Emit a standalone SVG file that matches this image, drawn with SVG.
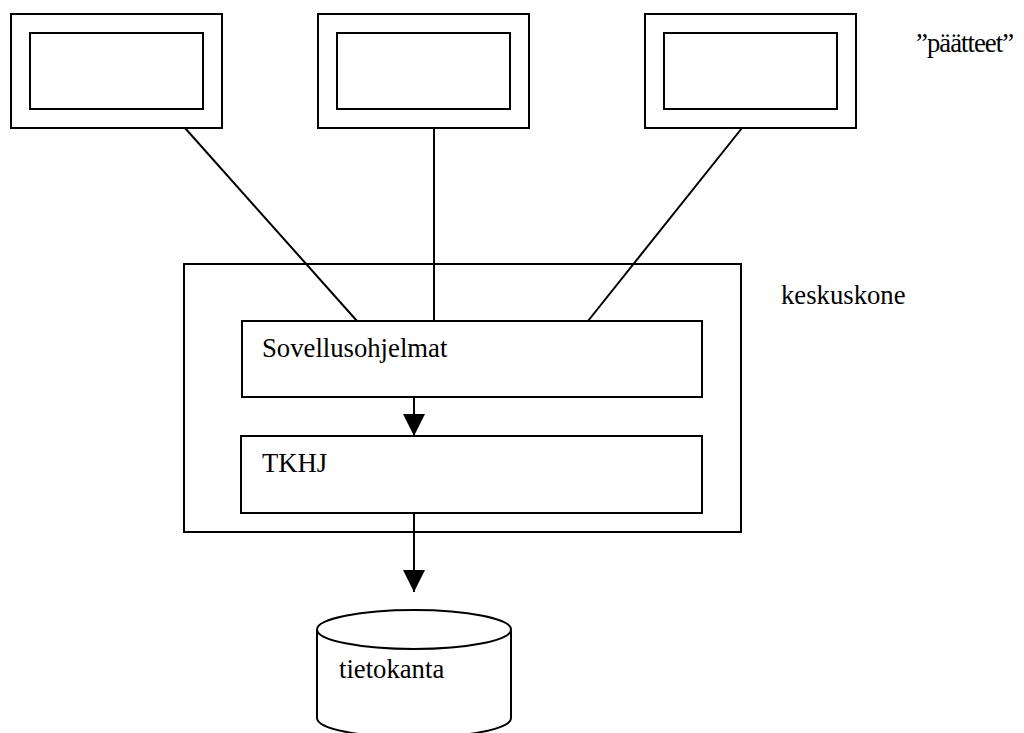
<svg xmlns="http://www.w3.org/2000/svg" width="1024" height="733" viewBox="0 0 1024 733">
  <style>
    .box { fill: #fff; stroke: #000; stroke-width: 2; }
    .ln { fill: none; stroke: #000; stroke-width: 2; }
    .lbl { font-size: 26.7px; fill: #000; }
  </style>
  <defs>
    <marker id="arrow" markerUnits="userSpaceOnUse" markerWidth="22" markerHeight="22" viewBox="0 0 20 20" refX="20" refY="10" orient="auto">
      <path d="M0,0 L20,10 L0,20 Z" fill="#000"/>
    </marker>
  </defs>

  <rect width="1024" height="733" fill="#fff"/>

  <!-- terminals -->
  <g id="terminal-left">
    <rect class="box" x="11" y="14" width="211" height="114"/>
    <rect class="box" x="30" y="33" width="173" height="76"/>
  </g>
  <g id="terminal-middle">
    <rect class="box" x="318" y="14" width="211" height="114"/>
    <rect class="box" x="337" y="33" width="173" height="76"/>
  </g>
  <g id="terminal-right">
    <rect class="box" x="645" y="14" width="211" height="114"/>
    <rect class="box" x="664" y="33" width="173" height="76"/>
  </g>

  <g font-family="'Liberation Serif', 'Times New Roman', 'DejaVu Serif', serif">
    <g id="label-terminals">
      <text class="lbl" x="916" y="52" textLength="98" lengthAdjust="spacing">”päätteet”</text>
    </g>

    <!-- mainframe -->
    <g id="mainframe">
      <rect class="box" x="184" y="264" width="557" height="268"/>
      <text class="lbl" x="781" y="304">keskuskone</text>
    </g>
    <g id="applications">
      <rect class="box" x="242" y="321" width="460" height="76"/>
      <text class="lbl" x="262" y="357">Sovellusohjelmat</text>
    </g>
    <g id="dbms">
      <rect class="box" x="241" y="436" width="461" height="77"/>
      <text class="lbl" x="262" y="472">TKHJ</text>
    </g>

    <!-- database -->
    <g id="database">
      <path class="box" d="M317,629.5 L317,718 A97,19.5 0 0 0 511,718 L511,629.5"/>
      <ellipse class="box" cx="414" cy="629.5" rx="97" ry="19.5"/>
      <text class="lbl" x="339" y="678">tietokanta</text>
    </g>
  </g>

  <!-- connectors -->
  <g id="connectors">
    <line class="ln" x1="185" y1="128" x2="357" y2="321"/>
    <line class="ln" x1="434" y1="128" x2="434" y2="321"/>
    <line class="ln" x1="742" y1="128" x2="588" y2="321"/>
    <line class="ln" x1="414" y1="397" x2="414" y2="436" marker-end="url(#arrow)"/>
    <line class="ln" x1="414" y1="513" x2="414" y2="592" marker-end="url(#arrow)"/>
  </g>
</svg>
